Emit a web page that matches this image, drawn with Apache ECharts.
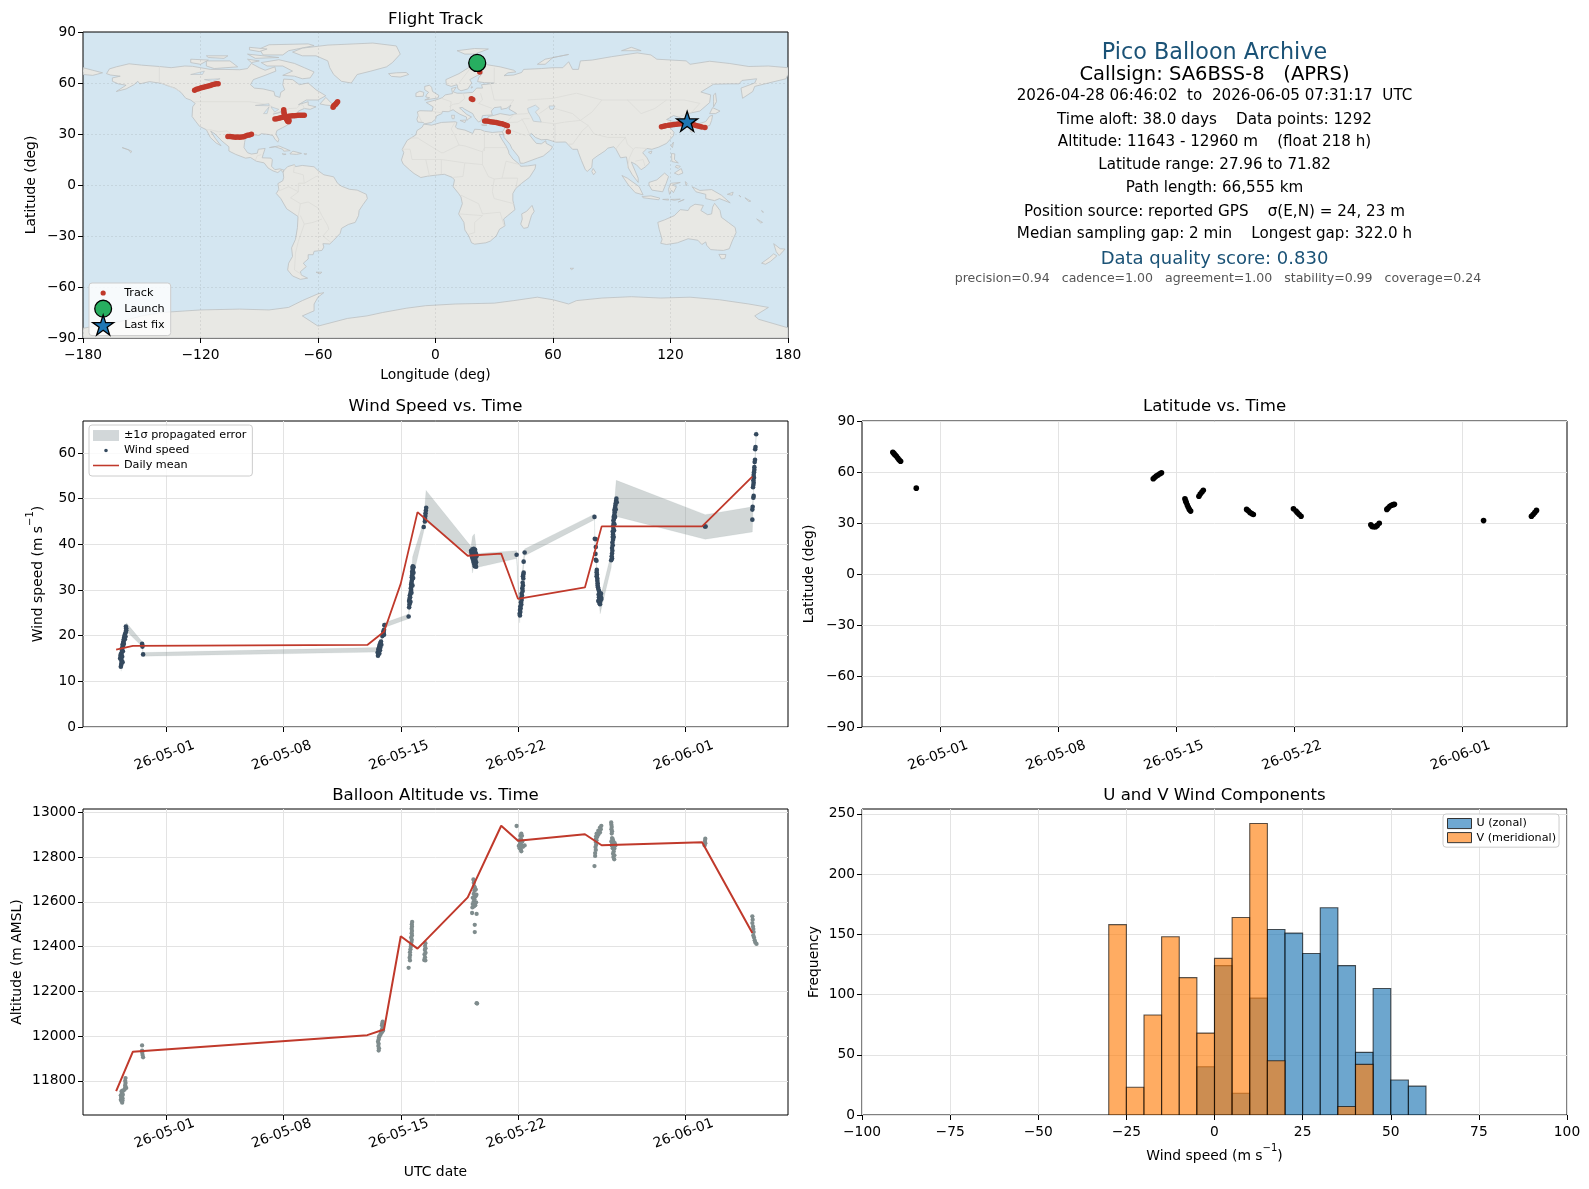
<!DOCTYPE html>
<html><head><meta charset="utf-8"><style>html,body{margin:0;padding:0;background:#fff}#c{width:1589px;height:1189px}</style>
<script src="https://cdn.jsdelivr.net/npm/echarts@6/dist/echarts.min.js"></script></head><body><div id="c"></div>
<script>
const DAY0 = Date.UTC(2026,4,1);
const timeTicks = [0,7,14,21,31];
const latTicks = [-90,-60,-30,0,30,60,90];
const windTicks = [0,10,20,30,40,50,60];
const altTicks = [11800,12000,12200,12400,12600,12800,13000];
const freqTicks = [0,50,100,150,200,250];

const dailyDays = [-3,-2,12,13,14,15,18,20,21,25,26,32,35];
const dailyWind = [16.95,17.75,17.96,20.87,31.4,47.05,37.5,37.96,28.07,30.55,43.93,43.93,54.84];
const dailyAlt = [11754,11930,12004,12029,12446,12391,12620,12940,12873,12902,12853,12866,12461];

const bandDays = [-2.7,-2.66,-2.58,-2.39,-1.45,-1.42,-1.39,12.6,12.66,12.82,12.92,13.02,14.47,14.51,14.71,15.37,15.51,18.2,18.28,18.4,18.55,20.92,21.1,21.24,21.34,21.4,25.57,25.59,25.71,25.91,26.57,26.71,26.87,32.19,35,35.06,35.12,35.23];
const bandLow = [12.2,15.2,17.2,21,17.6,17,15.5,16.4,15,18.2,19.6,21.8,23.7,25.6,32.5,42.8,45,37.5,33.7,36,34.9,36.9,22.8,30,35.2,37.5,45.4,40.5,33.5,24.8,34.9,44,46.1,41.1,42.7,50,54.5,63.2];
const bandHigh = [13.8,16.8,18.8,22.8,18.7,18,16.3,17.4,16.2,19.2,20.6,22.8,24.7,27,37.3,45,51.8,39.5,41.7,42.3,38,38.6,25.8,33,37.2,39,46.6,42,35,28.2,38,46.5,54,46.5,48.2,51,56.5,65];

const windPoints = [[-2.72,13.2],[-2.7,13.6],[-2.68,14],[-2.66,14.4],[-2.7,14.8],[-2.72,15.2],[-2.74,15.6],[-2.68,15.8],[-2.72,16],[-2.66,16.4],[-2.64,16.8],[-2.66,17.2],[-2.6,17.6],[-2.62,18],[-2.58,18.4],[-2.56,18.8],[-2.54,19.2],[-2.52,19.6],[-2.5,20],[-2.46,20.4],[-2.42,20.8],[-2.4,21.2],[-2.4,21.6],[-2.42,22],
[-2.62,14.2],[-2.76,15],[-2.64,15.4],[-2.6,16.6],[-2.54,18.2],[-2.48,19.2],[-2.44,19.8],
[-1.45,18.2],[-1.44,17.9],[-1.43,17.6],[-1.39,15.9],
[12.64,15.6],[12.66,16],[12.62,16.3],[12.68,16.6],[12.66,17],[12.7,17.3],[12.72,17.6],[12.74,18],[12.78,18.4],[12.82,18.7],[12.9,19.9],[12.94,20.2],[12.98,20.6],[12.96,20.9],[13,21.3],[13.02,22.3],[14.47,24.2],
[12.72,16.1],[12.76,16.8],[12.78,17.4],[12.84,18],[13,20.2],
[14.5,26.2],[14.52,26.8],[14.54,27.2],[14.5,27.6],[14.52,28],[14.56,28.4],[14.54,28.8],[14.58,29.2],[14.6,29.6],[14.62,30],[14.6,30.4],[14.64,30.8],[14.62,31.2],[14.64,31.6],[14.66,32],[14.68,32.4],[14.66,32.8],[14.68,33.2],[14.7,33.6],[14.68,34],[14.72,34.4],[14.7,34.8],[14.72,35.2],
[14.58,27.4],[14.64,29.4],[14.7,31],[14.74,32.6],[14.76,33.8],[14.76,35],
[15.37,43.8],[15.44,45],[15.45,45.6],[15.47,46.2],[15.48,46.8],[15.5,47.4],[15.52,48],
[18.2,38.6],[18.28,38.9],[18.36,39],[18.44,38.8],[18.22,38.2],[18.3,38.3],[18.38,38.4],[18.46,38.2],[18.24,37.7],[18.32,37.8],[18.4,37.8],[18.5,37.8],[18.26,37.2],[18.34,37.3],[18.42,37.3],[18.52,37.4],[18.3,36.8],[18.38,36.7],[18.46,36.8],[18.34,36.2],[18.42,36.2],[18.5,36.1],[18.38,35.7],[18.46,35.6],[18.42,35.2],[18.5,35.1],
[20.92,37.7],[21.4,38.2],[21.34,36.2],[21.34,33.8],[21.32,33.4],[21.3,33],[21.32,32.5],[21.28,31.6],[21.3,31],[21.26,30.4],[21.28,29.8],[21.22,29.2],[21.24,28.8],[21.2,28.3],[21.22,27.8],[21.18,27.3],[21.2,26.8],[21.14,26.4],[21.16,26],[21.12,25.6],[21.14,25.2],[21.1,24.8],[21.12,24.4],
[25.57,46],[25.59,41.2],[25.65,41.1],[25.65,39.4],[25.63,37.9],[25.65,36.6],[25.69,36.4],[25.71,34.4],[25.7,33.9],[25.72,33.4],[25.7,33],[25.74,32.5],[25.74,32],[25.76,31.5],[25.76,31],[25.78,30.6],[25.8,30.2],[25.84,29.8],[25.88,29.4],[25.82,29],[25.9,28.8],[25.84,28.4],[25.92,28.2],[25.84,27.8],[25.92,27.6],[25.86,27.2],[25.9,26.9],
[25.96,28.4],[25.96,29.2],[25.98,28],[25.8,27.6],
[26.57,36.5],[26.62,36.9],[26.6,37.4],[26.62,38],[26.64,38.6],[26.62,39.2],[26.66,39.8],[26.64,40.4],[26.68,41],[26.66,41.6],[26.68,42.2],[26.66,42.8],[26.7,43.4],[26.68,44],[26.72,44.6],[26.7,45.2],[26.74,45.6],[26.72,46],[26.76,46.5],[26.78,47],[26.76,47.5],[26.8,48],[26.82,48.5],[26.84,49],[26.86,49.5],[26.88,50],
[26.72,41.6],[26.74,43],[26.76,44.4],[26.8,46],[26.84,47.6],[26.9,49.2],
[32.17,43.9],[32.21,43.9],
[35,45.4],[35,47.6],[35.02,48.2],[35.06,50.2],[35.08,50.6],[35.04,52.5],[35.06,53],[35.08,53.5],[35.06,54],[35.1,54.6],[35.08,55.2],[35.1,55.8],[35.12,56.3],[35.12,56.9],[35.14,58],[35.16,58.5],[35.17,60.8],[35.19,61.3],[35.23,64.1]];

const altPoints = [[-2.72,11715],[-2.68,11710],[-2.64,11702],[-2.62,11712],[-2.7,11725],[-2.66,11730],[-2.62,11722],[-2.72,11735],[-2.66,11742],[-2.6,11738],[-2.68,11752],[-2.62,11756],[-2.58,11755],[-2.5,11760],[-2.46,11770],[-2.4,11768],[-2.46,11780],[-2.44,11790],[-2.46,11800],[-2.44,11812],
[-1.45,11958],[-1.45,11935],[-1.44,11925],[-1.42,11915],[-1.39,11905],
[12.68,11935],[12.7,11945],[12.66,11955],[12.68,11965],[12.64,11975],[12.68,11985],[12.7,11995],[12.72,12000],[12.78,12005],[12.82,12012],[12.86,12018],[12.9,12020],[12.94,12025],[12.88,12030],[12.92,12040],[12.88,12048],[12.9,12056],[12.92,12064],
[14.47,12305],[14.55,12338],[14.53,12350],[14.56,12362],[14.55,12375],[14.58,12388],[14.6,12400],[14.62,12410],[14.64,12420],[14.66,12430],[14.62,12440],[14.67,12450],[14.65,12460],[14.67,12470],[14.65,12480],[14.67,12490],[14.66,12500],[14.68,12510],
[15.4,12340],[15.47,12338],[15.45,12352],[15.42,12365],[15.48,12372],[15.44,12385],[15.48,12392],[15.45,12402],[15.47,12415],
[18.53,12147],[18.56,12145],[18.42,12465],[18.42,12497],[18.26,12550],[18.53,12546],[18.28,12575],[18.38,12580],[18.3,12590],[18.45,12585],[18.35,12600],[18.5,12598],[18.4,12612],[18.3,12618],[18.47,12625],[18.36,12635],[18.52,12632],[18.4,12650],[18.48,12655],[18.38,12670],[18.42,12665],[18.36,12685],[18.34,12700],[18.38,12694],
[20.92,12939],[21.05,12850],[21.1,12840],[21.16,12835],[21.2,12826],[21.12,12860],[21.2,12855],[21.3,12846],[21.4,12852],[21.08,12875],[21.18,12880],[21.26,12870],[21.14,12895],[21.24,12895],[21.2,12905],
[25.57,12760],[25.61,12805],[25.61,12818],[25.65,12832],[25.63,12845],[25.67,12855],[25.65,12868],[25.65,12880],[25.69,12875],[25.73,12890],[25.67,12893],[25.8,12900],[25.7,12905],[25.9,12910],[25.8,12918],[25.95,12925],[25.9,12932],[25.98,12940],
[26.57,12955],[26.58,12945],[26.6,12935],[26.58,12925],[26.62,12915],[26.6,12905],[26.62,12885],[26.66,12880],[26.58,12870],[26.7,12870],[26.64,12862],[26.78,12862],[26.6,12852],[26.7,12850],[26.82,12852],[26.66,12840],[26.76,12838],[26.72,12825],[26.68,12815],[26.76,12808],[26.7,12800],[26.75,12790],
[32.15,12852],[32.19,12862],[32.17,12872],[32.19,12882],
[35,12535],[35.02,12520],[35,12505],[35.04,12490],[35.06,12478],[35.08,12465],[35.06,12450],[35.1,12440],[35.14,12428],[35.18,12418],[35.25,12412]];

const latPoints = [[-2.79,71.6],[-2.72,70.8],[-2.65,70],[-2.58,69.2],[-2.5,68.2],[-2.42,67.2],[-2.33,66.3],[-1.4,50.5],
[12.66,56],[12.74,56.8],[12.84,57.6],[12.94,58.2],[13.05,59],[13.15,59.5],
[14.54,44.3],[14.58,43],[14.62,42],[14.68,40.6],[14.74,39.2],[14.8,38],[14.88,37],
[15.37,45.7],[15.45,47],[15.55,48.2],[15.63,49.2],
[18.2,38],[18.3,37.2],[18.4,36.2],[18.5,35.6],[18.6,35],
[20.98,38.4],[21.13,37],[21.22,36],[21.32,35],[21.43,34],
[25.57,29],[25.65,28],[25.75,27.8],[25.85,27.8],[25.95,28.6],[26.07,29.8],
[26.52,38],[26.6,38.8],[26.7,39.8],[26.8,40.4],[26.9,40.8],[26.97,41],
[32.26,31.4],[35.1,34],[35.2,35],[35.3,36.2],[35.4,37.4]];

const trackPoints = [[-123,55.8],[-122,56.3],[-121,56.6],[-120,57],[-119,57.3],[-118,57.6],[-117,57.9],[-116,58.2],[-115,58.5],[-114,58.9],[-113,59.2],[-112,59.5],[-111,59.5],
[-82,38.8],[-81,39],[-80,39.3],[-79,39.5],[-78,39.8],[-77,40],[-76,40.2],[-75,40.4],[-74,40.6],[-73,40.8],[-72,40.8],[-71,40.9],[-70,41],[-69,41],[-68,41],[-67,41],
[-77.5,44.3],[-77.4,43],[-77.3,42],[-77,41],[-76.5,39.5],[-76,38.5],[-75.5,37.5],[-75,37.2],[-74.8,38],
[-52.3,45.8],[-52,46.5],[-51.5,47],[-51,47.5],[-50.5,48.2],[-50,49],
[-106,28.6],[-105,28.5],[-104,28.4],[-103,28.2],[-102,28.1],[-101,28.2],[-100,28.1],[-99,28.2],[-98,28.4],[-97,28.8],[-96,29.2],[-95,29.4],[-94,29.8],
[22.6,66.5],[22,68],[21.5,70],[21.3,71.8],[18.3,50.7],[19,50.3],
[25.1,37.7],[26,37.6],[27,37.5],[28,37.2],[29,37],[30,36.9],[31,36.7],[32,36.4],[33,36.2],[34,36],[35,35.6],[36,35.2],[36.7,34.8],[37.2,31.3],
[115.4,34.2],[116.5,34.6],[117.5,34.9],[119,35.1],[120,35.3],[121,35.5],[122,35.6],[123,35.8],[124,35.9],[125,36],[126,36],[127,36],[128,36],[129,35.9],[130,35.8],[131,35.6],[132,35.4],[133,35],[134,34.7],[135,34.4],[136,34.1],[137.6,33.8]];
const launchPoint = [21.3,71.82];
const lastFixPoint = [128.5,37.5];

const histEdges = [-30,-25,-20,-15,-10,-5,0,5,10,15,20,25,30,35,40,45,50,55,60];
const uCounts = [0,0,0,0,0,40,124,18,97,154,151,134,172,124,52,105,29,24];
const vCounts = [158,23,83,148,114,68,130,164,242,45,0,0,0,7,42,0,0,0];

const landPolygons = [
[[-168,65.5],[-166.5,68.3],[-163,69.5],[-156.5,71.3],[-150,70.5],[-141,69.7],[-135,69],[-128,70],[-124,69.8],[-115,68],[-108,68],[-100,67.8],[-96,68.5],[-94,71.5],[-90,69],[-87,67.5],[-82,69.5],[-81.5,67],[-87,64.5],[-93,62],[-94.5,59],[-92.5,57],[-88,56.5],[-82.5,55],[-82,52.5],[-79.5,51.5],[-79,54.5],[-77,56],[-78,59],[-77.5,62.3],[-73,62],[-69.5,59],[-65,60],[-61,56],[-56,52.5],[-60,50],[-66,50],[-70,47.2],[-65,49],[-65,47],[-61,46],[-64,44.5],[-67,45],[-70,43.5],[-71,41.5],[-74,40.5],[-76,37],[-75.5,35.3],[-78,33.8],[-81,32],[-81.5,30],[-80,26.8],[-80.5,25.2],[-82,27],[-83,29],[-85,29.7],[-89,30.2],[-90,29.2],[-94,29.6],[-97,28],[-97.5,25],[-97.8,22],[-96,19],[-94,18.2],[-91,18.7],[-90.5,21],[-87,21.5],[-88,18],[-88.5,16],[-84,15.8],[-83.3,14.8],[-83.7,11],[-82,9],[-79.5,9.5],[-77.3,8.7],[-77.8,7.3],[-79,8.8],[-80.5,7.3],[-83,8.3],[-85.5,10],[-87.5,13],[-91.5,14],[-94.5,16.2],[-97,15.8],[-102,18],[-105.5,20],[-105.5,22.5],[-109,25.8],[-112.5,30],[-114.8,31.7],[-112.5,27.5],[-110.5,24.5],[-109.5,23.1],[-112,24.7],[-115,28],[-117,32.5],[-120.5,34.5],[-122.5,37.5],[-124.3,40.3],[-124,46],[-122.7,48],[-125,50],[-127.5,51],[-130,54.5],[-133,57],[-137,58.5],[-140,59.8],[-146,60.8],[-151,59.5],[-152,61],[-154,59],[-158,56.5],[-163,55],[-158,58.7],[-162,59.5],[-165,61],[-165,63],[-161,64],[-166,64.7]],
[[-80,73.7],[-72,71.5],[-67,69],[-62,66.5],[-64,63],[-68,62.5],[-72,64],[-78,64.5],[-73,67],[-78,70],[-86,70],[-89,72]],
[[-117,73],[-105,73],[-101,69.5],[-113,68.5],[-117,70]],
[[-125,74],[-116,73.5],[-120,71],[-125,72]],
[[-90,80],[-85,82.5],[-65,83],[-62,82],[-75,79],[-78,76.5],[-88,76.5]],
[[-96,77],[-80,75],[-92,74.5]],[[-117,76],[-106,76],[-108,74.5],[-116,75]],[[-95,81],[-86,80],[-90,78.5],[-95,79.5]],[[-96,74],[-90,73],[-94,72]],
[[-59,47.7],[-56,51.5],[-53,48],[-53,46.7],[-56,47]],
[[-73,78.2],[-68,80.5],[-55,82.3],[-32,83.5],[-20,81.8],[-18,77],[-22,72],[-25,69.5],[-33,67],[-40,65],[-43,60],[-48,61],[-52,65],[-54,69],[-55,73],[-61,76],[-68,76]],
[[-24,65.5],[-20,66],[-15,66.2],[-13.7,65],[-18,63.5],[-22.5,63.9]],
[[-84.8,22],[-80,23],[-74.2,20.2],[-77.5,19.9],[-78,21],[-82,22.5]],
[[-74.3,18.5],[-72.8,19.9],[-68.4,18.6],[-71,18],[-74.3,18.3]],[[-78.3,18.4],[-76.3,18.1],[-77.5,17.8]],[[-67.2,18.4],[-65.7,18.3],[-66.5,17.9]],
[[-160,22],[-158,21.3],[-155.7,20.2],[-155,19.7],[-155.7,19],[-156.5,20.6],[-158,21.1]],
[[-77.3,8.7],[-75.5,10.8],[-72,12],[-71.5,10.8],[-68,11.5],[-62,10.7],[-60,8.5],[-57,6],[-52,4.8],[-50,1],[-48,-0.7],[-44,-2.5],[-40,-3],[-35.3,-5.5],[-34.8,-8],[-37,-11.5],[-39,-15],[-39.3,-18],[-41,-22],[-44.5,-23.2],[-48,-25.5],[-48.7,-28.5],[-52,-32.5],[-54,-34.7],[-57.5,-34.5],[-57,-36.5],[-58,-38.5],[-62,-39],[-62.5,-41],[-65,-41],[-65,-43.5],[-67.5,-46],[-66,-48],[-69,-51],[-68.5,-53],[-65.3,-54.8],[-69,-55.5],[-73,-53.5],[-75.5,-50],[-75,-46],[-73,-42],[-73.5,-37],[-71.5,-32],[-70.5,-25],[-70.2,-18.5],[-76,-14],[-79,-8],[-81.3,-5],[-80,-2.5],[-80.5,0.8],[-78,2.5],[-77.5,4.5],[-77.8,7.3]],
[[-61,-51.3],[-58,-51.3],[-59,-52.3]],
[[-6,35.8],[-2,35.2],[3,36.8],[10,37.2],[11,36.8],[10.2,34.2],[11,33.2],[15,32.3],[19,30.3],[20,32.8],[23,32.6],[25,31.6],[29,30.9],[32,31.2],[34.2,31.3],[34.9,29.5],[32.5,29.9],[33.8,27],[36,23],[37.3,20],[37.5,18.5],[39.5,15.3],[43,12],[43.5,11],[47,11.2],[51.2,11.9],[50.8,9.5],[48,4.5],[44,1],[41,-2],[39.5,-5],[39.5,-9],[40.6,-14.5],[36.9,-18],[34.8,-20],[35.5,-24],[32.7,-26],[31,-30],[28,-33],[25.7,-34],[20,-34.8],[18.4,-34],[17,-30],[15,-26.5],[14.5,-22],[11.8,-17],[13.7,-11],[13,-7],[11.8,-5],[9,-1],[9.7,3],[8.5,4.5],[4.5,6.3],[1,5.9],[-4,5.2],[-7.5,4.4],[-11,6.8],[-13.3,9],[-16.5,12.3],[-17.4,14.7],[-16.2,19],[-17,21],[-14.5,26.2],[-10,29.5],[-9.5,32],[-6.8,34]],
[[49.3,-12],[50.4,-15.5],[49,-18],[47.2,-25],[45,-25.5],[43.5,-23],[44.3,-20],[44,-17],[46.5,-15.5]],
[[-9,37],[-6.3,36.8],[-5.5,36],[-2,36.8],[0,38.7],[0.5,40.6],[3.2,42],[3.5,43.3],[6.5,43.1],[9,44.3],[10.5,43],[12.5,41.6],[15.8,40],[16,38],[17,39],[18.4,40],[16,41.5],[13.5,44],[12.3,45.4],[13.7,45.6],[15,44.5],[19,42],[20,39.7],[22,37],[23.3,37.8],[24,40.8],[26,41],[29,41.2],[28.5,43.5],[30,45.5],[33.5,46],[33.5,44.5],[36.5,45.2],[38.5,47],[37.5,44.7],[41.5,42],[38,41],[33,42],[30,41],[27,40.3],[26.5,39],[27.3,37],[30,36.5],[34,36.2],[36,36.5],[35.7,34],[34.2,31.3],[34.9,29.5],[35,28],[38,24],[39,21.5],[42.5,16.5],[43.3,12.8],[45,12.8],[52,15.8],[55,17],[58.7,20.5],[59.8,22.5],[56.5,24.5],[56.3,26],[54,24.2],[51.5,24.5],[50,26.5],[48,29.5],[49,30.4],[51,28],[54,26.6],[57,26.8],[61.5,25.2],[66.5,25.3],[67.5,24],[70,21],[72.5,21],[73,19],[74.5,14.5],[76.5,9],[77.5,8],[79.8,10.3],[80.2,15],[82.5,17],[86.5,20],[88,21.7],[91,22.5],[92.3,20.8],[94.5,16],[97.5,16.5],[98.5,10],[100.5,6],[103.5,1.5],[103.5,4],[100,13.5],[102.5,12],[105,9],[107,10.5],[109.3,13],[108,16],[105.8,19],[108,21.5],[110.5,21],[114,22.3],[118,24.5],[121.5,29],[121.8,31],[119.2,34.5],[122.5,37],[118,38.5],[121.5,40.8],[125,39.7],[126.5,37],[126.3,34.5],[129,35.2],[129.5,37],[127.5,39.8],[130,42.3],[135,43.5],[140,48.5],[140.5,53],[135.5,54.7],[142,59.3],[150,59.5],[155,59.5],[156.5,61.5],[164,62.5],[163,60],[156,57],[156.8,51],[162,55],[163,58],[170,60],[179,62.5],[180,65],[180,69],[170,70],[160,69.7],[150,71.5],[140,72.8],[130,71],[128,73],[113,74],[110,76.5],[103,77.7],[90,75.5],[80,73.5],[74,73],[73,68],[70,68],[68,72.5],[65,69],[60,69],[54,68.5],[45,68],[44,66.2],[40,64.7],[35,64.3],[37,66],[41,66.5],[40,67.5],[33,69.5],[25,71],[18,69.8],[12,65.5],[5.3,62],[5.5,59],[8,58],[11,59],[11.5,56.5],[13,55.4],[16.5,56.5],[18.5,60],[17.5,62],[21.5,64.5],[24,65.8],[22,63],[21.5,60.8],[25,60.2],[30,60],[27,59.4],[23.5,59],[24,57],[21,57],[19,54.5],[14,54],[11,54],[9,54.8],[10.5,57.5],[8.2,56.8],[8.7,53.8],[5,53],[3.5,51.4],[1.5,50.5],[-1.5,49.5],[-4.7,48.5],[-1.2,46],[-1.7,43.5],[-8,43.7],[-9.3,43],[-8.8,41],[-9.5,38.7]],
[[-180,65],[-175,64.5],[-170,66],[-175,67.5],[-180,69]],
[[-5.5,50],[1.3,51.2],[1.7,52.7],[-1.5,55],[-2,57.5],[-3,58.7],[-5.5,58],[-5.5,56],[-3.5,54.5],[-4.5,53.3],[-5,51.8],[-3,51.3]],
[[-10,52],[-6.3,52.2],[-6,54.5],[-8,55.2],[-10,54]],
[[11,79],[20,80.3],[27,80],[20,77],[15,77]],[[52,71],[56,74],[68,76.8],[60,75],[56,71]],[[95,79],[105,79],[100,81]],
[[130.8,34],[135,33.5],[140,35],[141,38],[141.5,41],[140,40.5],[138,37.3],[133,35.5]],[[130,33],[131.8,33],[131,31],[130.2,31.3]],[[140,42],[141.5,45.5],[145.3,43.5],[143,42]],
[[142,46],[143.5,49],[143,54],[142,53],[142,49]],[[120.2,23],[121.5,25.2],[121,22]],[[108.7,19.3],[110.5,20],[110,18.3]],[[79.8,8],[80.5,9.7],[81.8,7.5],[80.7,6]],
[[120.5,18.5],[122.2,18.3],[122,15],[124,13],[120.7,13.8]],[[122,7],[125.5,9.7],[126.3,7],[124,6]],[[122.5,10.5],[123,11.5],[125,11],[124,9.8]],
[[109,1.5],[113,3],[117,7],[119,5],[117.8,1],[116,-4],[110.5,-3],[109,0]],[[95.2,5.6],[98,4],[104,-1],[106,-5.8],[102,-4.5],[98.5,0]],[[105.5,-6.8],[110,-6.4],[114.5,-7.7],[114,-8.7],[106,-7.5]],
[[119.5,-5.5],[119,-2.5],[120,1],[125,1.5],[121,0],[123,-1],[121.5,-4.5],[120.5,-3]],[[131,-1],[135,-3.2],[141,-2.7],[146,-6],[150.5,-10.5],[145,-8],[142.5,-9.2],[138,-8],[138,-5.5],[133,-4]],
[[127.5,2],[128.5,1],[128,-0.5]],[[116,-8.5],[119,-8.3],[119,-8.9]],[[120,-8.5],[125,-8.3],[122,-9]],[[124,-10],[127,-8.5],[125,-9.5]],[[149,-5.5],[152,-4.2],[151.5,-6]],[[155,-6],[156,-7],[155.5,-6.8]],[[158,-7.5],[161,-9.5],[160,-9.7]],[[166.5,-15],[167.5,-16],[167,-16]],[[164,-20],[167,-22],[166,-22.3]],
[[113.5,-22],[114.2,-26],[115.7,-32],[115,-34.3],[118,-35],[123.5,-34],[129,-31.6],[134,-32.5],[136,-35],[138,-33.5],[138.5,-35.5],[140.5,-38],[144,-38.3],[147,-38.5],[150,-37.5],[151.5,-33],[153.5,-28],[153,-25],[149.5,-22],[146,-19],[145.3,-15],[143,-11.5],[142.5,-10.8],[141.5,-13],[141,-17],[139,-17.5],[135.5,-15],[136.8,-12],[132.5,-11.3],[130,-13],[129,-15],[125,-14.5],[122,-18],[117,-20.5]],
[[144.7,-40.8],[148.3,-40.9],[147.8,-43.2],[146,-43.5]],[[172.7,-34.5],[176,-37.5],[178.5,-37.7],[175.5,-41.5],[174,-39.3]],[[172.7,-40.5],[174.3,-41.7],[171,-45],[168.5,-46.6],[166.5,-46],[170.5,-42.7]],[[68.7,-49],[70.5,-49],[69.5,-49.8]],
[[8.2,41],[9.7,41],[9.5,39],[8.5,39]],[[12.5,38],[15.5,38.2],[15,36.7]],[[23.5,35.4],[26.3,35.2],[24.7,34.9]],[[32.3,35],[34.5,35.6],[33.5,34.7]],[[18.5,58],[19,57.5],[18.2,57]],
[[-180,-84.3],[-160,-80],[-150,-77],[-140,-75],[-120,-73.5],[-100,-73],[-85,-73.5],[-75,-72],[-68,-68],[-60,-64],[-57,-63.3],[-60,-66],[-62,-70],[-62,-74],[-68,-77],[-60,-83],[-45,-78.5],[-35,-77],[-27,-75],[-15,-72.5],[-5,-71],[10,-70],[30,-69.5],[40,-68],[52,-66],[60,-67.5],[68,-70],[72,-68],[85,-66.5],[100,-65.7],[115,-66.5],[130,-66],[145,-67.5],[160,-70],[170,-72],[163,-77],[165,-79],[180,-84],[180,-90],[-180,-90]]
];
const lakePolygons = [
[[47,45],[51,47],[53,45],[51,43],[53,40],[54,37],[50,37.5],[49,40],[47.5,43]],
[[-92,46.8],[-85,47.8],[-85,46.6]],[[-87.8,42],[-85,46],[-86,42]],[[-84,46],[-80,44.5],[-82,43],[-83.5,45]],[[-83,41.7],[-79,42.8],[-79.5,42.6]],[[-79.5,43.3],[-76.3,44],[-76.5,43.4]],
[[58,46.5],[61,46.5],[60,44.5],[58.5,44.5]],[[-118,62],[-110,62.5],[-114,61]],[[-125,65],[-118,67],[-119,65]]
];
const borderLines = [
[[-123,49],[-95,49],[-89,48],[-84,46.5],[-82.5,45],[-82.5,42.5],[-79,43],[-76,44.2],[-74.7,45],[-71,45.2],[-69,47.3],[-67.7,47],[-67,45]],
[[-141,69.7],[-141,60.3],[-137,58.8],[-130,55]],[[-117,32.5],[-114.8,32.5],[-111,31.3],[-106.5,31.8],[-103,29],[-101,29.7],[-97.2,25.9]],[[-92,14.5],[-91,17.2],[-89,17.9]],
[[-70,-18],[-69,-11],[-74,-7.5],[-70,-4],[-70,1],[-67,1],[-61,5],[-60,5.2]],[[-72,12],[-72.5,7.5],[-67.5,6],[-67,1]],[[-80,-3.5],[-75,-1],[-70,-4]],[[-69,-11],[-65,-10],[-60,-13.5],[-58,-18],[-55,-24],[-54.5,-26],[-57.5,-30],[-53.5,-33.7]],[[-69,-18],[-67,-23],[-70,-33],[-71.5,-40],[-72,-50],[-68.5,-52.5]],[[-67,-23],[-62.5,-22],[-58,-20]],
[[-8.7,27.7],[-13,27.7]],[[-8.7,27.3],[3,19],[4,19],[12,23.5],[15,23],[24,19.5],[25,22],[36,22]],[[25,31.6],[25,20]],[[10,37],[8,33],[9.5,30],[12,23.5]],[[-17,21],[-13,21],[-12,15],[-5,15],[3,15],[15,13],[24,12],[24,19.5]],[[15,13],[14,5],[9,4.5]],[[24,12],[27,5],[30,3.5],[34,4],[42,4],[41,-2]],[[34,4],[36,14],[43,12]],[[30,3.5],[29,-4],[30,-8],[40,-11]],[[13,-6],[22,-11],[24,-17],[33,-16],[35,-24]],[[12,-17],[24,-18],[20,-22],[20,-28],[17,-29]],[[-5,15],[-3,5]],[[3,15],[3,6.3]],
[[-9,42],[-7,37]],[[-1.7,43.3],[3,42.5]],[[3,51],[8,49],[7.5,44]],[[14,54],[15,51],[12,48],[9,47.5],[7,46]],[[23,54],[24,50],[22,48],[29,45]],[[28,60],[30,50],[40,50],[38,47]],[[30,69],[30,60]],[[12,60],[18,69]],[[47,42],[40,41.5],[36,36.7],[42,37],[45,39],[48,39]],[[46,29],[39,32],[36,33]],[[48,30],[46,35],[44,39]],[[61,36],[61,25]],[[61,36],[66,37],[74,38],[78,35],[75,32],[70,24],[68,24]],[[47,50],[60,51],[72,54],[85,50],[98,50],[108,50],[118,50],[127,50],[135,48],[131,43]],[[85,50],[80,43],[74,38]],[[78,35],[81,30],[88,28],[97,28],[98,24],[101,21],[102,22],[108,21.5]],[[92,21],[94,24],[97,28]],[[98,10],[99,16],[101,21]],[[102,14],[106,15],[107,11]],[[98,50],[105,42],[112,45],[118,50]],[[124,40],[131,43]],[[47,42],[50,45]],[[53,42],[58,46],[70,42],[74,38]],[[54,37],[61,36]]
];

const infoLines = [
 ['Pico Balloon Archive',53.7,22.3,'#1a5276',1214.5],
 ['Callsign: SA6BSS-8   (APRS)',75,19.5,'#000',1214.5],
 ['2026-04-28 06:46:02  to  2026-06-05 07:31:17  UTC',96.2,15.15,'#000',1214.5],
 ['Time aloft: 38.0 days    Data points: 1292',119.6,15.15,'#000',1214.5],
 ['Altitude: 11643 - 12960 m    (float 218 h)',141.9,15.15,'#000',1214.5],
 ['Latitude range: 27.96 to 71.82',165.2,15.15,'#000',1214.5],
 ['Path length: 66,555 km',188.5,15.15,'#000',1214.5],
 ['Position source: reported GPS    σ(E,N) = 24, 23 m',211.8,15.15,'#000',1214.5],
 ['Median sampling gap: 2 min    Longest gap: 322.0 h',234,15.15,'#000',1214.5],
 ['Data quality score: 0.830',259.4,18,'#1a5276',1214.5],
 ['precision=0.94   cadence=1.00   agreement=1.00   stability=0.99   coverage=0.24',278.7,12.55,'#555',1218]
];

const FONT = 'DejaVu Sans';
const TICK = 13.8, NAME = 13.9;
const toMs = d => DAY0 + d*864e5;
const pairs = a => a.map(p => [toMs(p[0]), p[1]]);
const grids = [
 {left:83,top:32,width:705,height:306},
 {left:83,top:421,width:705,height:306},
 {left:862,top:421,width:705,height:306},
 {left:83,top:809,width:705,height:306},
 {left:862,top:809,width:705,height:306}
].map((g,i)=>Object.assign(g,{show:true,borderColor:'#000',borderWidth:1,backgroundColor:i===0?'#d4e6f1':'transparent',containLabel:false}));
const gridLine = {show:true,lineStyle:{color:'#e3e3e3',width:1}};
const mapLine = {show:true,lineStyle:{color:'rgba(120,120,120,0.2)',width:0.8,type:[2,2]}};
const tick = {show:true,length:5,inside:false,lineStyle:{color:'#000',width:1}};
const axisL = {show:false,onZero:false};
const minusFmt = v => String(v).replace('-','\u2212');
const nameSt = {color:'#000',fontFamily:FONT,fontSize:NAME,
  rich:{b:{fontFamily:FONT,fontSize:NAME,color:'#000',lineHeight:20,verticalAlign:'bottom'},s:{fontFamily:FONT,fontSize:10,color:'#000',lineHeight:20,verticalAlign:'top'}}};
const WIND_NAME = '{b|Wind speed (m s}{s|\u22121}{b|)}';
function timeAxis(idx,minD,maxD,margin,name){
  const cv = timeTicks.map(toMs);
  return {type:'value',gridIndex:idx,min:toMs(minD),max:toMs(maxD),axisLine:axisL,splitLine:gridLine,
    axisTick:Object.assign({},tick,{customValues:cv}),
    axisLabel:{customValues:cv,rotate:20,color:'#000',fontFamily:FONT,fontSize:TICK,margin,align:'center',verticalAlign:'middle',padding:[0,4,0,0],hideOverlap:false,
      formatter:v=>new Date(v).toISOString().slice(2,10)},
    name:name||'',nameLocation:'middle',nameGap:50,nameTextStyle:nameSt};
}
function valAxis(idx,min,max,ticks,name,gap){
  return {type:'value',gridIndex:idx,min,max,axisLine:axisL,splitLine:gridLine,
    axisTick:Object.assign({},tick,{customValues:ticks}),
    axisLabel:{color:'#000',fontFamily:FONT,fontSize:TICK,margin:7,padding:[2,0,0,0],formatter:minusFmt,customValues:ticks},
    name,nameLocation:'middle',nameGap:gap,nameRotate:90,nameTextStyle:nameSt};
}
const xLab = {color:'#000',fontFamily:FONT,fontSize:TICK,margin:10,formatter:minusFmt};
const polyItem = (poly,api,style)=>({type:'polygon',shape:{points:poly.map(p=>api.coord(p))},style});
const dot = r => 'path://M0 0L.01 0ZM100 100L100.01 100ZM'+(50-r)+' 50A'+r+' '+r+' 0 1 1 '+(50+r)+' 50A'+r+' '+r+' 0 1 1 '+(50-r)+' 50Z';
const starPath = 'path://M50 0L61.8 36.3L100 36.3L69.1 58.8L80.9 95.1L50 72.7L19.1 95.1L30.9 58.8L0 36.3L38.2 36.3Z';
const patchPath = 'path://M0 0H100V42H0Z';
const barPath = 'path://M0 0H100V6H0Z';
const legendText = {color:'#000',fontFamily:FONT,fontSize:11.2};
const legendBox = {orient:'vertical',backgroundColor:'rgba(255,255,255,0.8)',borderColor:'#ccc',borderWidth:1,borderRadius:3,selectedMode:false,textStyle:legendText};
const histRects = (counts)=>counts.map((c,i)=>[histEdges[i],histEdges[i+1],c]).filter(r=>r[2]>0);

const series = [
 {type:'custom',name:'land',xAxisIndex:0,yAxisIndex:0,clip:true,z:1,silent:true,data:landPolygons.map((_,i)=>[i]),
  renderItem:(p,api)=>polyItem(landPolygons[p.dataIndex],api,{fill:'#e8e8e4',stroke:'#bcc0c1',lineWidth:0.8})},
 {type:'custom',name:'borders',xAxisIndex:0,yAxisIndex:0,clip:true,z:1,silent:true,data:borderLines.map((_,i)=>[i]),
  renderItem:(p,api)=>({type:'polyline',shape:{points:borderLines[p.dataIndex].map(q=>api.coord(q))},style:{fill:null,stroke:'#dcdcd8',lineWidth:0.8}})},
 {type:'custom',name:'lakes',xAxisIndex:0,yAxisIndex:0,clip:true,z:1,silent:true,data:lakePolygons.map((_,i)=>[i]),
  renderItem:(p,api)=>polyItem(lakePolygons[p.dataIndex],api,{fill:'#d4e6f1',stroke:'#bcc0c1',lineWidth:0.6})},
 {type:'scatter',name:'Track',xAxisIndex:0,yAxisIndex:0,z:5,symbolSize:5.5,itemStyle:{color:'#c0392b',opacity:1},data:trackPoints},
 {type:'scatter',name:'Launch',xAxisIndex:0,yAxisIndex:0,z:6,symbolSize:17,itemStyle:{color:'#27ae60',borderColor:'#000',borderWidth:1.3,opacity:1},data:[launchPoint]},
 {type:'scatter',name:'Last fix',xAxisIndex:0,yAxisIndex:0,z:7,symbol:starPath,symbolKeepAspect:true,symbolSize:21,itemStyle:{color:'#1f77b4',borderColor:'#000',borderWidth:1.3,opacity:1},data:[lastFixPoint]},

 {type:'custom',name:'\u00b11\u03c3 propagated error',xAxisIndex:1,yAxisIndex:1,z:2,silent:true,clip:true,itemStyle:{color:'#d2d7d9'},data:[[0]],
  renderItem:(p,api)=>{const up=bandDays.map((d,i)=>[toMs(d),bandHigh[i]]);const lo=bandDays.map((d,i)=>[toMs(d),bandLow[i]]).reverse();
   return polyItem(up.concat(lo),api,{fill:'rgba(127,140,141,0.35)',stroke:'rgba(127,140,141,0.2)',lineWidth:0.5});}},
 {type:'scatter',name:'Wind speed',xAxisIndex:1,yAxisIndex:1,z:3,symbolSize:4.6,itemStyle:{color:'#34495e',opacity:1},data:pairs(windPoints)},
 {type:'line',name:'Daily mean',xAxisIndex:1,yAxisIndex:1,z:4,showSymbol:false,symbol:'none',lineStyle:{color:'#c0392b',width:1.8},itemStyle:{color:'#c0392b'},data:dailyDays.map((d,i)=>[toMs(d),dailyWind[i]])},

 {type:'scatter',name:'lat',xAxisIndex:2,yAxisIndex:2,z:3,symbolSize:5.6,itemStyle:{color:'#000',opacity:1},data:pairs(latPoints)},

 {type:'scatter',name:'alt',xAxisIndex:3,yAxisIndex:3,z:3,symbolSize:4.3,itemStyle:{color:'#7f8c8d',opacity:1},data:pairs(altPoints)},
 {type:'line',name:'altmean',xAxisIndex:3,yAxisIndex:3,z:4,showSymbol:false,symbol:'none',lineStyle:{color:'#c0392b',width:2},data:dailyDays.map((d,i)=>[toMs(d),dailyAlt[i]])},

 ...[['U (zonal)',uCounts,'rgba(31,119,180,0.65)'],['V (meridional)',vCounts,'rgba(255,127,14,0.65)']].map(([name,counts,col],k)=>({
   type:'custom',name,xAxisIndex:4,yAxisIndex:4,z:3+k,clip:true,silent:true,itemStyle:{color:col,borderColor:'rgba(0,0,0,0.7)',borderWidth:1},data:histRects(counts),
   encode:{x:[0,1],y:2},
   renderItem:(p,api)=>{const a=api.coord([api.value(0),0]),b=api.coord([api.value(1),api.value(2)]);
     return {type:'rect',shape:{x:a[0],y:b[1],width:b[0]-a[0],height:a[1]-b[1]},style:{fill:col,stroke:'rgba(0,0,0,0.65)',lineWidth:1.1}};}}))
];

const option = {
 animation:false,backgroundColor:'#fff',
 textStyle:{fontFamily:FONT},
 grid:grids,
 title:[['Flight Track',435.5,11.5],['Wind Speed vs. Time',435.5,398],['Latitude vs. Time',1214.5,398],['Balloon Altitude vs. Time',435.5,787],['U and V Wind Components',1214.5,787]].map(([text,x,y])=>({text,left:x,top:y,textAlign:'center',padding:0,textStyle:{fontFamily:FONT,fontSize:16.6,fontWeight:'normal',color:'#000'}})),
 legend:[
  Object.assign({},legendBox,{left:89,top:283,padding:[0,6,0,3],itemWidth:32,itemHeight:20,itemGap:-5,
    data:[{name:'Track',icon:dot(13)},{name:'Launch',icon:dot(42),itemStyle:{color:'#27ae60',borderColor:'#000',borderWidth:1.3}},{name:'Last fix',icon:starPath,itemStyle:{color:'#1f77b4',borderColor:'#000',borderWidth:1.3}}]}),
  Object.assign({},legendBox,{left:89,top:425,padding:[5,6,5,4],itemWidth:26,itemHeight:13,itemGap:3,
    data:[{name:'\u00b11\u03c3 propagated error',icon:patchPath,itemStyle:{color:'#d2d7d9'}},{name:'Wind speed',icon:dot(14),itemStyle:{color:'#34495e'}},{name:'Daily mean',icon:barPath}]}),
  Object.assign({},legendBox,{left:1443,top:814,padding:[4,3,4,4],itemWidth:24,itemHeight:12,itemGap:3,
    data:[{name:'U (zonal)',icon:patchPath,itemStyle:{color:'#6fa8d2',borderColor:'#333',borderWidth:1}},{name:'V (meridional)',icon:patchPath,itemStyle:{color:'#ffad66',borderColor:'#333',borderWidth:1}}]})
 ],
 xAxis:[
  {type:'value',gridIndex:0,min:-180,max:180,interval:60,z:3,axisLine:axisL,splitLine:mapLine,axisTick:tick,axisLabel:xLab,name:'Longitude (deg)',nameLocation:'middle',nameGap:30,nameTextStyle:nameSt},
  timeAxis(1,-4.98,37.13,28),
  timeAxis(2,-4.62,37.21,28),
  timeAxis(3,-4.98,37.13,18,'UTC date'),
  {type:'value',gridIndex:4,min:-100,max:100,interval:25,axisLine:axisL,splitLine:gridLine,axisTick:tick,axisLabel:xLab,name:WIND_NAME,nameLocation:'middle',nameGap:28,nameTextStyle:nameSt}
 ],
 yAxis:[
  Object.assign(valAxis(0,-90,90,latTicks,'Latitude (deg)',45),{z:3,splitLine:mapLine}),
  valAxis(1,0,67,windTicks,WIND_NAME,38),
  valAxis(2,-90,90,latTicks,'Latitude (deg)',46),
  valAxis(3,11647,13015,altTicks,'Altitude (m AMSL)',59),
  valAxis(4,0,254,freqTicks,'Frequency',41)
 ],
 series,
 graphic:infoLines.map(([t,y,s,c,x])=>({type:'text',x,y,style:{text:t,fontFamily:FONT,fontSize:s,fill:c,align:'center',verticalAlign:'middle'}}))
};
const chart = echarts.init(document.getElementById('c'),null,{renderer:'canvas',width:1589,height:1189});
chart.setOption(option);
</script></body></html>
